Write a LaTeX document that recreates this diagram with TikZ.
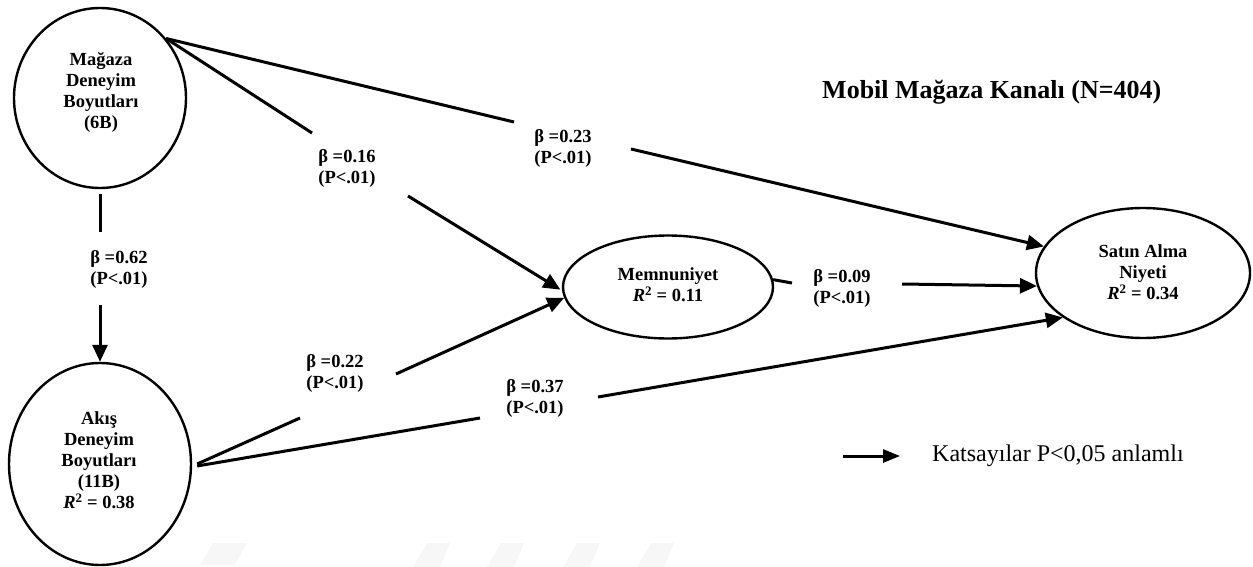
\documentclass[tikz,border=0pt]{standalone}
\usepackage{fontspec}
\setmainfont{Liberation Serif}
\usetikzlibrary{arrows.meta,shapes.geometric}

\begin{document}
\begin{tikzpicture}[x=1pt,y=-1pt,
  ell/.style={draw, ellipse, line width=2.4pt, inner sep=0pt},
  conn/.style={line width=3pt},
  arr/.style={conn, -{Triangle[length=17pt,width=15pt]}},
  lbl/.style={font=\fontsize{18.5}{21}\selectfont\bfseries, align=center, inner sep=0pt},
  mark shade/.style={fill=black!3, draw=none}
]
\useasboundingbox (0,0) rectangle (1253,567);

% faint background marks along the bottom edge
\fill[mark shade] (200,565) -- (235,565) -- (247,543) -- (213,543) -- cycle;
\foreach \x in {413,487,563,637}
  \fill[mark shade] (\x,567) -- (\x+27,567) -- (\x+37,543) -- (\x+14,543) -- cycle;

% constructs
\node[ell, minimum width=172pt, minimum height=180pt] (c1) at (100,98) {};
\node[lbl] (c1t) at (101,92) {Mağaza\\Deneyim\\Boyutları\\(6B)};

\node[ell, minimum width=182pt, minimum height=202pt] (c2) at (100,464) {};
\node[lbl] (c2t) at (99,460) {Akış\\Deneyim\\Boyutları\\(11B)\\\textit{R}\textsuperscript{2} = 0.38};

\node[ell, minimum width=210pt, minimum height=103pt] (mem) at (668,287) {};
\node[lbl] (memt) at (668,285) {Memnuniyet\\\textit{R}\textsuperscript{2} = 0.11};

\node[ell, minimum width=214pt, minimum height=130pt] (sat) at (1143,273) {};
\node[lbl] (satt) at (1143,272) {Satın Alma\\Niyeti\\\textit{R}\textsuperscript{2} = 0.34};

% title
\node[anchor=base west, inner sep=0pt, font=\fontsize{26}{30}\selectfont\bfseries] (title) at (822,99) {Mobil Mağaza Kanalı (N=404)};

% path start points
\coordinate (c1o) at (c1.42);
\coordinate (c2o) at ([xshift=5pt]c2.east);

% Mağaza -> Akış
\coordinate (v1) at (100,232);
\coordinate (v2) at (100,305);
\draw[conn] ([yshift=-5pt]c1.south) -- (v1);
\draw[arr] (v2) -- (c2.north);
\node[lbl] (b62) at (119,269) {β =0.62\\(P<.01)};

% Mağaza -> Memnuniyet
\coordinate (g16a) at (312,133);
\coordinate (g16b) at (408,196);
\draw[conn] (c1o) -- (g16a);
\draw[arr, shorten >=2pt] (g16b) -- (mem.182);
\node[lbl] (b16) at (347,168) {β =0.16\\(P<.01)};

% Mağaza -> Satın Alma
\coordinate (g23a) at (514,122);
\coordinate (g23b) at (631,149);
\draw[conn] (c1o) -- (g23a);
\draw[arr] (g23b) -- (sat.165);
\node[lbl] (b23) at (563,148) {β =0.23\\(P<.01)};

% Akış -> Memnuniyet
\coordinate (g22a) at (300,418);
\coordinate (g22b) at (396,374);
\draw[conn] (c2o) -- (g22a);
\draw[arr] (g22b) -- (mem.186);
\node[lbl] (b22) at (335,373) {β =0.22\\(P<.01)};

% Akış -> Satın Alma
\coordinate (g37a) at (480,418);
\coordinate (g37b) at (598,397);
\draw[conn] ([yshift=-2pt]c2o) -- (g37a);
\draw[arr] (g37b) -- (sat.209);
\node[lbl] (b37) at (535,398) {β =0.37\\(P<.01)};

% Memnuniyet -> Satın Alma
\coordinate (g09a) at (792,283);
\coordinate (g09b) at (902,284);
\draw[conn] (mem.4) -- (g09a);
\draw[arr] (g09b) -- (sat.187);
\node[lbl] (b09) at (842,288) {β =0.09\\(P<.01)};

% legend
\coordinate (la) at (843,456);
\coordinate (lb) at (900,456);
\draw[conn, -{Triangle[length=17pt,width=13pt]}] (la) -- (lb);
\node[anchor=base west, inner sep=0pt, font=\fontsize{24}{28}\selectfont] (legt) at (932,461) {Katsayılar P<0,05 anlamlı};
\end{tikzpicture}
\end{document}
